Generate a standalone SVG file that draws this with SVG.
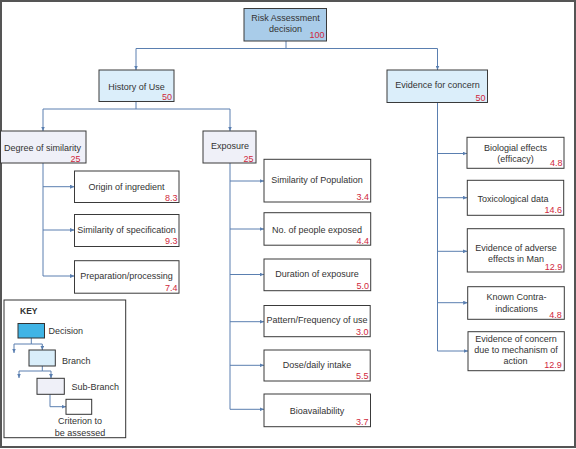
<svg xmlns="http://www.w3.org/2000/svg" width="576" height="449" viewBox="0 0 576 449">
<defs>
<marker id="arr" markerUnits="userSpaceOnUse" markerWidth="5" markerHeight="4" refX="4.5" refY="2" orient="auto">
<path d="M0,0 L4.5,2 L0,4 z" fill="#5a7fb0"/>
</marker>
<style>
.c{stroke:#5a7fb0;stroke-width:1;fill:none}
.a{marker-end:url(#arr)}
.b{stroke:#3a3a3a;stroke-width:1}
.dec{fill:#a9cce9}
.br{fill:#dbeefa}
.sb{fill:#eff0f8}
.cr{fill:#ffffff}
text{font-family:"Liberation Sans",Arial,sans-serif;font-size:9px;fill:#333}
.m{text-anchor:middle}
.n{text-anchor:end;fill:#d0283c}
.k{font-weight:bold;font-size:8.5px}
</style>
</defs>
<rect x="1" y="1" width="574" height="446" fill="#ffffff" stroke="#555" stroke-width="2"/>

<g id="connectors">
<path class="c a" d="M286 41 V48.5 H136 V70"/>
<path class="c a" d="M286 48.5 H437.5 V70"/>
<path class="c a" d="M136 101.5 V109 H43 V131"/>
<path class="c a" d="M136 109 H230 V131"/>
<path class="c a" d="M43 163 V276 H74.5"/>
<path class="c a" d="M43 186.7 H74.5"/>
<path class="c a" d="M43 230 H74.5"/>
<path class="c a" d="M230 163 V409.3 H264"/>
<path class="c a" d="M230 181 H264"/>
<path class="c a" d="M230 229 H264"/>
<path class="c a" d="M230 274.5 H264"/>
<path class="c a" d="M230 321.7 H264"/>
<path class="c a" d="M230 365.3 H264"/>
<path class="c a" d="M437.5 102.5 V351 H468"/>
<path class="c a" d="M437.5 153.5 H467"/>
<path class="c a" d="M437.5 197.7 H467.3"/>
<path class="c a" d="M437.5 251.3 H467.3"/>
<path class="c a" d="M437.5 302.7 H467.7"/>
</g>

<g id="risk">
<rect class="b dec" x="244" y="8.5" width="82.5" height="32.5"/>
<text class="m" x="285.5" y="20.5">Risk Assessment</text>
<text class="m" x="285.5" y="32">decision</text>
<text class="n" x="324.5" y="37.5">100</text>
</g>
<g id="history">
<rect class="b br" x="99" y="70" width="75" height="31.5"/>
<text class="m" x="136.5" y="89.8">History of Use</text>
<text class="n" x="172" y="99.5">50</text>
</g>
<g id="evidence">
<rect class="b br" x="387" y="70" width="100.5" height="32.5"/>
<text class="m" x="437.5" y="88">Evidence for concern</text>
<text class="n" x="485.5" y="100.5">50</text>
</g>
<g id="degree">
<rect class="b sb" x="0.5" y="131" width="85.5" height="32"/>
<text class="m" x="42.5" y="150.5">Degree of similarity</text>
<text class="n" x="80.5" y="161.5">25</text>
</g>
<g id="exposure">
<rect class="b sb" x="203" y="131" width="53" height="32"/>
<text class="m" x="230" y="148.5">Exposure</text>
<text class="n" x="253.5" y="161.5">25</text>
</g>

<g id="origin">
<rect class="b cr" x="74.5" y="171" width="104.5" height="31.5"/>
<text class="m" x="126.5" y="190">Origin of ingredient</text>
<text class="n" x="177.5" y="200.5">8.3</text>
</g>
<g id="simspec">
<rect class="b cr" x="74.5" y="214.5" width="104.5" height="32"/>
<text class="m" x="126.5" y="233.2">Similarity of specification</text>
<text class="n" x="177.5" y="244">9.3</text>
</g>
<g id="prep">
<rect class="b cr" x="74.5" y="260.7" width="104.5" height="32.5"/>
<text class="m" x="126.5" y="279.3">Preparation/processing</text>
<text class="n" x="177.5" y="291">7.4</text>
</g>

<g id="simpop">
<rect class="b cr" x="264" y="159.3" width="106.7" height="42.7"/>
<text class="m" x="317" y="183.2">Similarity of Population</text>
<text class="n" x="369" y="200">3.4</text>
</g>
<g id="nopeople">
<rect class="b cr" x="264" y="212.7" width="106.7" height="32.5"/>
<text class="m" x="317" y="232.5">No. of people exposed</text>
<text class="n" x="369" y="243.5">4.4</text>
</g>
<g id="duration">
<rect class="b cr" x="264" y="259" width="106.7" height="31.7"/>
<text class="m" x="317" y="277">Duration of exposure</text>
<text class="n" x="369" y="288.5">5.0</text>
</g>
<g id="pattern">
<rect class="b cr" x="264" y="305.5" width="106.2" height="31.2"/>
<text class="m" x="317" y="322.5">Pattern/Frequency of use</text>
<text class="n" x="368.5" y="334.5">3.0</text>
</g>
<g id="dose">
<rect class="b cr" x="264" y="350" width="106.2" height="31"/>
<text class="m" x="317" y="368.3">Dose/daily intake</text>
<text class="n" x="368.5" y="379">5.5</text>
</g>
<g id="bioavail">
<rect class="b cr" x="264" y="394" width="106.5" height="32.7"/>
<text class="m" x="317" y="413.8">Bioavailability</text>
<text class="n" x="368.5" y="424.5">3.7</text>
</g>

<g id="biological">
<rect class="b cr" x="467" y="137.3" width="97" height="31"/>
<text class="m" x="515.5" y="151">Biologial effects</text>
<text class="m" x="515.5" y="162">(efficacy)</text>
<text class="n" x="562.5" y="166">4.8</text>
</g>
<g id="toxic">
<rect class="b cr" x="467.3" y="180.3" width="96.4" height="35"/>
<text class="m" x="513" y="202">Toxicological data</text>
<text class="n" x="562" y="213">14.6</text>
</g>
<g id="adverse">
<rect class="b cr" x="467.3" y="228.7" width="96.7" height="43.3"/>
<text class="m" x="516" y="251.2">Evidence of adverse</text>
<text class="m" x="516" y="262">effects in Man</text>
<text class="n" x="562.3" y="270">12.9</text>
</g>
<g id="contra">
<rect class="b cr" x="467.7" y="286.7" width="96.6" height="32.6"/>
<text class="m" x="516.5" y="300">Known Contra-</text>
<text class="m" x="516.5" y="311.5">indications</text>
<text class="n" x="561.7" y="317.5">4.8</text>
</g>
<g id="mechanism">
<rect class="b cr" x="468" y="331.7" width="96.3" height="39"/>
<text class="m" x="516" y="342">Evidence of concern</text>
<text class="m" x="516" y="353.2">due to mechanism of</text>
<text class="m" x="515.5" y="364">action</text>
<text class="n" x="561.7" y="368">12.9</text>
</g>

<g id="key">
<rect x="4" y="300" width="121.7" height="137.7" fill="#ffffff" stroke="#333" stroke-width="1"/>
<text class="k" x="20" y="314">KEY</text>
<path class="c" d="M31.3 338 V344 H14"/>
<path class="c a" d="M14 344 V353"/>
<path class="c a" d="M31.3 344 H42.3 V350"/>
<rect x="18" y="323.5" width="26.5" height="14.5" fill="#40b4e5" stroke="#333" stroke-width="1"/>
<text x="48.5" y="333.5">Decision</text>
<path class="c" d="M42.3 366 V371 H19"/>
<path class="c a" d="M19 371 V378"/>
<path class="c a" d="M42.3 371 H51 V378.3"/>
<rect x="29" y="350" width="26.3" height="16" fill="#d9eefa" stroke="#333" stroke-width="1"/>
<text x="62" y="364">Branch</text>
<path class="c a" d="M50 394.3 V406.7 H66"/>
<rect x="37" y="378.3" width="27.3" height="16" fill="#eff0f8" stroke="#333" stroke-width="1"/>
<text x="71.5" y="389.5">Sub-Branch</text>
<rect x="66" y="399.3" width="25.7" height="15" fill="#ffffff" stroke="#333" stroke-width="1"/>
<text class="m" x="80" y="424">Criterion to</text>
<text class="m" x="80" y="435.7">be assessed</text>
</g>
</svg>
